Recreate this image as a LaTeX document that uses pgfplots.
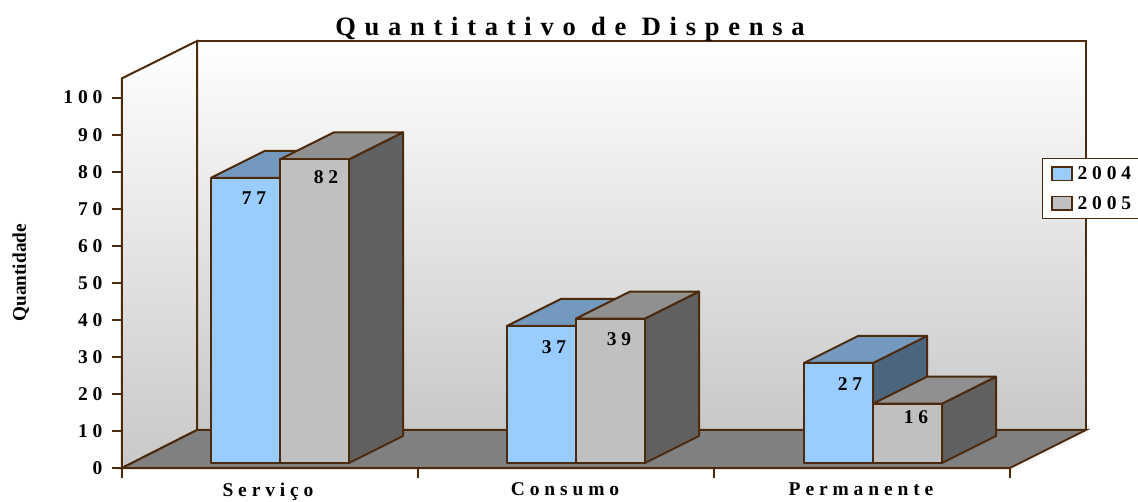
\documentclass[border=0pt]{standalone}
\usepackage{fontspec}
\setmainfont{Liberation Serif}
\newfontfamily\spc[LetterSpace=25]{Liberation Serif}
\newfontfamily\spt[LetterSpace=33]{Liberation Serif}
\usepackage{pgfplots}
\pgfplotsset{compat=1.18}
\definecolor{ln}{HTML}{4E2A0C}
\definecolor{bfr}{HTML}{99CCFF}
\definecolor{btp}{HTML}{7399BF}
\definecolor{bsd}{HTML}{4D6680}
\definecolor{gfr}{HTML}{C0C0C0}
\definecolor{gtp}{HTML}{909090}
\definecolor{gsd}{HTML}{606060}
\definecolor{flr}{HTML}{808080}
\definecolor{wbt}{HTML}{C8C8C8}
\pgfplotsset{
  face/.style={draw=ln,line width=2pt,line join=round,fill=#1,forget plot,yshift=5pt},
}
\newcommand{\tfont}{\spc\bfseries\fontsize{19.5}{21}\selectfont}
\begin{document}
\begin{tikzpicture}[x=1pt,y=1pt]
\path[use as bounding box] (0,0) rectangle (1138,501);
\begin{axis}[
  at={(122pt,33pt)},anchor=south west,
  scale only axis,width=888pt,height=370.4pt,
  xmin=122,xmax=1010,ymin=0,ymax=100,
  clip=false,
  axis x line*=bottom,axis y line*=left,
  axis line style={draw=ln,line width=2pt,-},
  tick style={draw=ln,line width=2pt},
  tick align=outside,major tick length=10pt,
  xtick={122,418,714,1010},xticklabels={},
  extra x ticks={268,565,861},
  extra x tick labels={Serviço,Consumo,Permanente},
  extra x tick style={major tick length=0pt,tick label style={yshift=-11pt}},
  ytick={0,10,...,100},
  /pgf/number format/assume math mode=true,
  tick label style={font=\tfont},
  y tick label style={xshift=-6pt},
  title={Quantitativo de Dispensa},
  title style={at={(0.5045,1.168)},anchor=center,font=\spt\bfseries\fontsize{26.5}{28}\selectfont},
  ylabel={Quantidade},
  ylabel style={at={(axis description cs:-0.114,0.527)},anchor=center,font=\rmfamily\bfseries\fontsize{19.3}{21}\selectfont},
  legend style={at={(1.036,0.837)},anchor=north west,draw=ln,line width=1.5pt,fill=white,
    font=\tfont,inner xsep=8pt,inner ysep=7pt,row sep=13pt,cells={anchor=west},
    nodes={inner xsep=5pt,inner ysep=1pt}},
  legend image code/.code={\draw[#1,line width=1.8pt] (0pt,-6.5pt) rectangle (20pt,7pt);},
]
\addlegendimage{fill=bfr,draw=ln}
\addlegendentry{2004}
\addlegendimage{fill=gfr,draw=ln}
\addlegendentry{2005}
% walls and floor
\addplot[draw=ln,line width=2pt,top color=white,bottom color=wbt,forget plot]
  coordinates {(197,10.26)(197,115.28)(1086,115.28)(1086,10.26)} --cycle;
\addplot[draw=ln,line width=2pt,top color=white,bottom color=wbt,forget plot]
  coordinates {(122,0)(122,105.2)(197,115.28)(197,10.26)} --cycle;
\addplot[draw=ln,line width=2pt,fill=flr,forget plot]
  coordinates {(122,0)(197,10.26)(1086,10.26)(1010,0)} --cycle;
% Servico
\addplot[face=bsd] coordinates {(280,0)(280,77)(334,84.29)(334,7.29)} --cycle;
\addplot[face=btp] coordinates {(211,77)(265,84.29)(334,84.29)(280,77)} --cycle;
\addplot[face=bfr] coordinates {(211,0)(211,77)(280,77)(280,0)} --cycle;
\addplot[face=gsd] coordinates {(349,0)(349,82)(403,89.29)(403,7.29)} --cycle;
\addplot[face=gtp] coordinates {(280,82)(334,89.29)(403,89.29)(349,82)} --cycle;
\addplot[face=gfr] coordinates {(280,0)(280,82)(349,82)(349,0)} --cycle;
% Consumo
\addplot[face=bsd] coordinates {(576,0)(576,37)(630,44.29)(630,7.29)} --cycle;
\addplot[face=btp] coordinates {(507,37)(561,44.29)(630,44.29)(576,37)} --cycle;
\addplot[face=bfr] coordinates {(507,0)(507,37)(576,37)(576,0)} --cycle;
\addplot[face=gsd] coordinates {(645,0)(645,39)(699,46.29)(699,7.29)} --cycle;
\addplot[face=gtp] coordinates {(576,39)(630,46.29)(699,46.29)(645,39)} --cycle;
\addplot[face=gfr] coordinates {(576,0)(576,39)(645,39)(645,0)} --cycle;
% Permanente
\addplot[face=bsd] coordinates {(873,0)(873,27)(927,34.29)(927,7.29)} --cycle;
\addplot[face=btp] coordinates {(804,27)(858,34.29)(927,34.29)(873,27)} --cycle;
\addplot[face=bfr] coordinates {(804,0)(804,27)(873,27)(873,0)} --cycle;
\addplot[face=gsd] coordinates {(942,0)(942,16)(996,23.29)(996,7.29)} --cycle;
\addplot[face=gtp] coordinates {(873,16)(927,23.29)(996,23.29)(942,16)} --cycle;
\addplot[face=gfr] coordinates {(873,0)(873,16)(942,16)(942,0)} --cycle;
% value labels
\node[font=\tfont] at (axis cs:254,72.9) {77};
\node[font=\tfont] at (axis cs:326,78.6) {82};
\node[font=\tfont] at (axis cs:554,32.7) {37};
\node[font=\tfont] at (axis cs:619,34.8) {39};
\node[font=\tfont] at (axis cs:850,22.7) {27};
\node[font=\tfont] at (axis cs:916,13.8) {16};
\end{axis}
\end{tikzpicture}
\end{document}
